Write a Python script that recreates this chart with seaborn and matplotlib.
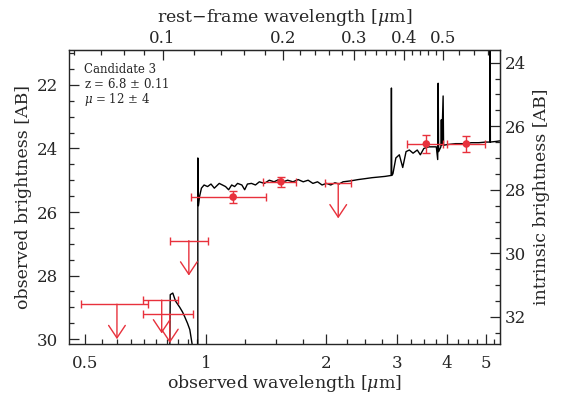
import numpy as np
import matplotlib
matplotlib.use("Agg")
import matplotlib.pyplot as plt
import seaborn as sns

# model spectrum (observed wavelength in micron, AB mag)
spec_wave = [0.812, 0.815, 0.827, 0.84, 0.861, 0.875, 0.886, 0.90, 0.912, 0.928,
             0.955, 0.955, 0.958, 0.965, 0.975, 0.99, 1.01, 1.03, 1.05, 1.08,
             1.10, 1.12, 1.14, 1.16, 1.18, 1.20, 1.23, 1.25, 1.27, 1.30,
             1.33, 1.36, 1.40, 1.44, 1.48, 1.52, 1.56, 1.60, 1.65, 1.70,
             1.75, 1.80, 1.85, 1.90, 1.95, 2.00, 2.05, 2.10, 2.15, 2.20,
             2.30, 2.40, 2.50, 2.60, 2.70, 2.80, 2.90, 2.905, 2.91, 2.93,
             2.95, 2.98, 3.04, 3.10, 3.16, 3.22, 3.29, 3.37, 3.43, 3.50,
             3.60, 3.70, 3.76, 3.79, 3.80, 3.81, 3.86, 3.87, 3.88, 3.91,
             3.92, 4.00, 4.20, 4.40, 4.60, 4.80, 5.00, 5.12, 5.12, 5.13,
             5.30, 5.50]
spec_mag = [31.0, 28.6, 28.55, 28.8, 29.0, 29.15, 29.3, 29.5, 29.7, 30.3,
            31.0, 24.3, 25.8, 25.5, 25.25, 25.15, 25.2, 25.12, 25.25, 25.1,
            25.15, 25.2, 25.3, 25.15, 25.2, 25.1, 25.15, 25.3, 25.12, 25.1,
            25.15, 25.05, 25.1, 25.0, 25.05, 24.98, 25.05, 25.0, 25.05, 24.98,
            25.05, 25.0, 25.1, 25.05, 25.15, 25.1, 25.15, 25.08, 25.12, 25.05,
            25.02, 24.98, 24.95, 24.92, 24.9, 24.88, 24.85, 22.1, 24.85, 24.8,
            24.6, 24.3, 24.2, 24.6, 24.1, 24.05, 24.15, 24.05, 24.2, 24.0,
            23.95, 23.95, 23.95, 24.35, 21.95, 24.1, 23.95, 23.1, 23.9, 22.35,
            23.9, 23.88, 23.85, 23.85, 23.82, 23.82, 23.8, 23.8, 20.9, 23.8,
            23.78, 23.75]

# photometric detections
det_wave = [1.17, 1.54, 3.55, 4.47]
det_mag = [25.53, 25.05, 23.86, 23.86]
det_xlo = [0.92, 1.39, 3.18, 4.00]
det_xhi = [1.41, 1.68, 3.91, 4.98]
det_err = [0.19, 0.16, 0.28, 0.25]

# upper limits
lim_wave = [0.60, 0.776, 0.813, 0.907, 2.14]
lim_mag = [28.9, 28.77, 29.2, 26.9, 25.1]
lim_xlo = [0.487, 0.696, 0.696, 0.813, 1.98]
lim_xhi = [0.716, 0.851, 0.928, 1.01, 2.30]
lim_len = [1.1, 1.05, 0.92, 1.1, 1.1]

z = 6.8
mu_shift = 2.698  # 2.5 log10(12)

red = '#e8313c'
sns.set_style("ticks")
plt.rcParams['font.family'] = ['DejaVu Serif']
plt.rcParams['mathtext.fontset'] = 'dejavuserif'

fig = plt.figure(figsize=(5.64, 3.99), dpi=100)
ax = fig.add_axes([0.122, 0.138, 0.765, 0.737])

sns.lineplot(x=spec_wave, y=spec_mag, estimator=None, sort=False,
             color='black', lw=1.0, ax=ax)

det_wave = np.array(det_wave)
xerr = [det_wave - np.array(det_xlo), np.array(det_xhi) - det_wave]
ax.errorbar(det_wave, det_mag, xerr=xerr, yerr=det_err, fmt='none',
            ecolor=red, elinewidth=1.0, capsize=3, zorder=3)
sns.scatterplot(x=det_wave, y=det_mag, color=red, s=30, edgecolor='none',
                zorder=4, ax=ax)

lim_wave = np.array(lim_wave)
lerr = [lim_wave - np.array(lim_xlo), np.array(lim_xhi) - lim_wave]
ax.errorbar(lim_wave, lim_mag, xerr=lerr, fmt='none', ecolor=red,
            elinewidth=1.0, capsize=3, zorder=3)
for w, m, d in zip(lim_wave, lim_mag, lim_len):
    an = ax.annotate('', xy=(w, m + d), xytext=(w, m),
                     arrowprops=dict(arrowstyle='->,head_length=0.6,head_width=0.4',
                                     color=red, lw=1.0, mutation_scale=15,
                                     shrinkA=0, shrinkB=0))
    an.arrow_patch.set_clip_path(ax.patch)

ax.set_xscale('log')
ax.set_xlim(0.455, 5.43)
ax.set_ylim(30.15, 20.9)

xmaj = [0.5, 1, 2, 3, 4, 5]
ax.xaxis.set_major_locator(matplotlib.ticker.FixedLocator(xmaj))
ax.xaxis.set_major_formatter(matplotlib.ticker.FixedFormatter(['0.5', '1', '2', '3', '4', '5']))
xmin = [0.55, 0.6, 0.65, 0.7, 0.75, 0.8, 0.85, 0.9, 0.95, 1.25, 1.5, 1.75,
        2.25, 2.5, 2.75, 3.25, 3.5, 3.75, 4.25, 4.5, 4.75, 5.25]
ax.xaxis.set_minor_locator(matplotlib.ticker.FixedLocator(xmin))
ax.xaxis.set_minor_formatter(matplotlib.ticker.NullFormatter())
ax.yaxis.set_major_locator(matplotlib.ticker.MultipleLocator(2))
ax.yaxis.set_minor_locator(matplotlib.ticker.MultipleLocator(0.5))

ax.tick_params(which='both', direction='in', top=False, right=False, labelsize=12)
ax.tick_params(which='major', length=7, width=0.9, pad=8)
ax.tick_params(which='minor', length=3.5, width=0.9)
ax.set_xlabel(r'observed wavelength [$\mu$m]', fontsize=12.5, labelpad=1)
ax.set_ylabel('observed brightness [AB]', fontsize=12.5, labelpad=3)
for s in ax.spines.values():
    s.set_linewidth(1.0)

top = ax.secondary_xaxis('top', functions=(lambda x: x / (1 + z), lambda x: x * (1 + z)))
top.xaxis.set_major_locator(matplotlib.ticker.FixedLocator([0.1, 0.2, 0.3, 0.4, 0.5]))
top.xaxis.set_major_formatter(matplotlib.ticker.FixedFormatter(['0.1', '0.2', '0.3', '0.4', '0.5']))
top.xaxis.set_minor_locator(matplotlib.ticker.FixedLocator(
    [0.06, 0.07, 0.08, 0.09, 0.12, 0.14, 0.16, 0.18, 0.22, 0.24, 0.26, 0.28,
     0.32, 0.34, 0.36, 0.38, 0.42, 0.44, 0.46, 0.48, 0.55, 0.6, 0.65]))
top.xaxis.set_minor_formatter(matplotlib.ticker.NullFormatter())
top.xaxis.offsetText.set_visible(False)
top.tick_params(which='both', direction='in', labelsize=12)
top.tick_params(which='major', length=7, width=0.9, pad=2)
top.tick_params(which='minor', length=3.5, width=0.9)
top.set_xlabel(r'rest$-$frame wavelength [$\mu$m]', fontsize=12.5, labelpad=6)

right = ax.secondary_yaxis('right', functions=(lambda m: m + mu_shift, lambda m: m - mu_shift))
right.yaxis.set_major_locator(matplotlib.ticker.MultipleLocator(2))
right.yaxis.set_minor_locator(matplotlib.ticker.MultipleLocator(0.5))
right.yaxis.offsetText.set_visible(False)
right.tick_params(which='both', direction='in', labelsize=12)
right.tick_params(which='major', length=7, width=0.9, pad=3)
right.tick_params(which='minor', length=3.5, width=0.9)
right.set_ylabel('intrinsic brightness [AB]', fontsize=12.5, labelpad=5)

ax.text(0.035, 0.955, 'Candidate 3\nz = 6.8 $\\pm$ 0.11\n$\\mu$ = 12 $\\pm$ 4',
        transform=ax.transAxes, ha='left', va='top', fontsize=8.5, linespacing=1.05)

fig.savefig('out.png', dpi=100)
